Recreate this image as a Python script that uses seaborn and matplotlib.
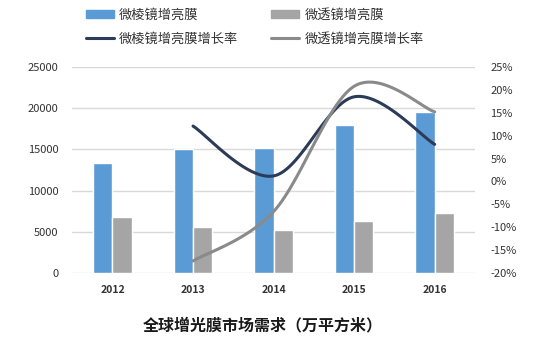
import numpy as np
import pandas as pd
import matplotlib
matplotlib.use("Agg")
import matplotlib.pyplot as plt
from matplotlib.patches import Patch
from matplotlib.lines import Line2D
import seaborn as sns

years = ["2012", "2013", "2014", "2015", "2016"]
prism_film = [13300, 15000, 15200, 18000, 19500]
lens_film = [6800, 5600, 5200, 6300, 7300]
growth_years = ["2013", "2014", "2015", "2016"]
prism_growth = [12.1, 1.2, 18.5, 8.1]
lens_growth = [-17.4, -6.6, 20.8, 15.2]

series_names = ["微棱镜增亮膜", "微透镜增亮膜", "微棱镜增亮膜增长率", "微透镜增亮膜增长率"]
blue, grey = "#5B9BD5", "#A5A5A5"
navy, line_grey = "#2C3B57", "#8A8A8A"

df = pd.DataFrame({
    "year": years * 2,
    "value": prism_film + lens_film,
    "series": [series_names[0]] * 5 + [series_names[1]] * 5,
})


def smooth(xs, ys, n=40):
    # Excel-style smoothed line (Catmull-Rom as cubic bezier)
    pts = np.column_stack([xs, ys]).astype(float)
    out = []
    for i in range(len(pts) - 1):
        p0 = pts[i - 1] if i > 0 else pts[i]
        p1, p2 = pts[i], pts[i + 1]
        p3 = pts[i + 2] if i + 2 < len(pts) else pts[i + 1]
        c1 = p1 + (p2 - p0) / 6
        c2 = p2 - (p3 - p1) / 6
        t = np.linspace(0, 1, n)[:, None]
        seg = (1 - t) ** 3 * p1 + 3 * (1 - t) ** 2 * t * c1 + 3 * (1 - t) * t ** 2 * c2 + t ** 3 * p2
        out.append(seg if i == 0 else seg[1:])
    out = np.vstack(out)
    return out[:, 0], out[:, 1]


sns.set_theme(style="white")
plt.rcParams["font.family"] = ["Noto Sans CJK SC", "DejaVu Sans"]

fig = plt.figure(figsize=(5.51, 3.53), dpi=100)
ax = fig.add_axes([0.131, 0.227, 0.731, 0.583])

sns.barplot(data=df, x="year", y="value", hue="series", palette=[blue, grey],
            width=0.48, gap=0, saturation=1, ax=ax, legend=False)
ax.set_xlim(-0.5, 4.5)
ax.set_ylim(0, 25000)
ax.set_yticks(range(0, 25001, 5000))
ax.yaxis.grid(True, color="#D9D9D9", linewidth=1)
ax.set_axisbelow(True)
ax.set_xlabel("")
ax.set_ylabel("")
for s in ax.spines.values():
    s.set_visible(False)
ax.tick_params(axis="y", length=0, pad=10, labelsize=8, labelcolor="#333333")
ax.tick_params(axis="x", length=0, pad=9, labelsize=7.5, labelcolor="#333333")
for lab in ax.get_xticklabels():
    lab.set_fontweight("bold")

ax2 = ax.twinx()
gx = [years.index(y) for y in growth_years]
sx, sy = smooth(gx, prism_growth)
ax2.plot(sx, sy, color=navy, linewidth=2.2)
sx, sy = smooth(gx, lens_growth)
ax2.plot(sx, sy, color=line_grey, linewidth=2.2)
ax2.set_ylim(-20, 25)
ax2.set_yticks(range(-20, 26, 5))
ax2.set_yticklabels([f"{v}%" for v in range(-20, 26, 5)])
ax2.grid(False)
for s in ax2.spines.values():
    s.set_visible(False)
ax2.tick_params(axis="y", length=0, pad=11, labelsize=8, labelcolor="#333333")

handles = [
    Patch(color=blue, label=series_names[0]),
    Line2D([], [], color=navy, linewidth=2.2, label=series_names[2]),
    Patch(color=grey, label=series_names[1]),
    Line2D([], [], color=line_grey, linewidth=2.2, label=series_names[3]),
]
leg = fig.legend(handles=handles, ncol=2, loc="upper left", bbox_to_anchor=(0.135, 1.01),
                 frameon=False, fontsize=9.5, handlelength=2.1, handleheight=0.6,
                 handletextpad=0.4, columnspacing=2.5, labelspacing=0.85)
for t in leg.get_texts():
    t.set_color("#333333")

fig.text(0.476, 0.079, "全球增光膜市场需求（万平方米）", ha="center", va="center",
         fontsize=11.5, fontweight="bold", color="#1A1A1A")

fig.savefig("out.png", dpi=100)
